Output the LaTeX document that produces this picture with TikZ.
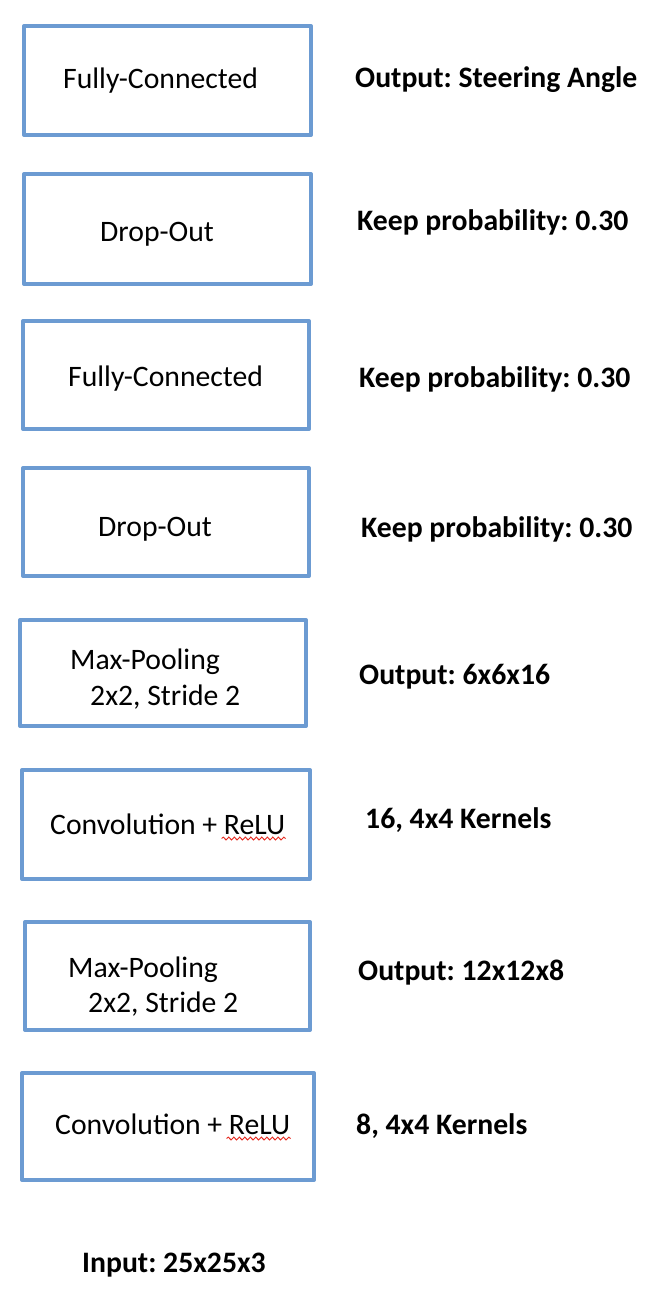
\documentclass[tikz,border=0pt]{standalone}
\usepackage{fontspec}
\setmainfont{Carlito}
\frenchspacing
\usetikzlibrary{calc,decorations.pathmorphing}
\definecolor{boxblue}{RGB}{108,155,210}
\definecolor{squig}{RGB}{230,40,30}
\tikzset{
  layerbox/.style={draw=boxblue, line width=4bp, rectangle, inner sep=0pt, line join=round},
  ltxt/.style={anchor=base west, inner sep=0pt, font=\fontsize{29.7bp}{34bp}\selectfont},
  rtxt/.style={anchor=base west, inner sep=0pt, font=\fontsize{29.7bp}{34bp}\selectfont\bfseries},
  spell/.style={draw=squig, line width=0.9bp, decorate, decoration={snake, amplitude=1.4bp, segment length=5.5bp}}
}
\begin{document}
\begin{tikzpicture}[x=1bp,y=-1bp]
\useasboundingbox (0,0) rectangle (648,1308);
\fill[white] (0,0) rectangle (648,1308);
% boxes
\node[layerbox, minimum width=287bp, minimum height=109bp] (b1) at (167.5,80.5) {};
\node[layerbox, minimum width=287bp, minimum height=110bp] (b2) at (167.5,229) {};
\node[layerbox, minimum width=286bp, minimum height=108bp] (b3) at (166,375) {};
\node[layerbox, minimum width=286bp, minimum height=108bp] (b4) at (166,522) {};
\node[layerbox, minimum width=286bp, minimum height=106bp] (b5) at (163,673) {};
\node[layerbox, minimum width=288bp, minimum height=109bp] (b6) at (166,824.5) {};
\node[layerbox, minimum width=285bp, minimum height=108bp] (b7) at (167.5,976) {};
\node[layerbox, minimum width=292bp, minimum height=107bp] (b8) at (168,1126.5) {};
% box texts
\node[ltxt] (t1) at (63,89) {Fully-Connected};
\node[ltxt] (t2) at (100,242) {Drop-Out};
\node[ltxt] (t3) at (68,386) {Fully-Connected};
\node[ltxt] (t4) at (98,536) {Drop-Out};
\node[ltxt] (t5a) at (70,669) {Max-Pooling};
\node[ltxt] (t5b) at (90,705) {2x2, Stride 2};
\node[ltxt] (t6) at (50,834) {Convolution + ReLU};
\node[ltxt] (t7a) at (68,977) {Max-Pooling};
\node[ltxt] (t7b) at (88,1012) {2x2, Stride 2};
\node[ltxt] (t8) at (55,1134) {Convolution + ReLU};
% spell-check squiggles
\draw[spell] ($(t6.base east)+(-64,4.5)$) -- ($(t6.base east)+(0,4.5)$);
\draw[spell] ($(t8.base east)+(-64,4.5)$) -- ($(t8.base east)+(0,4.5)$);
% right labels
\node[rtxt] (r1) at (355,88) {Output: Steering Angle};
\node[rtxt] (r2) at (357,231) {Keep probability: 0.30};
\node[rtxt] (r3) at (359,387) {Keep probability: 0.30};
\node[rtxt] (r4) at (361,537) {Keep probability: 0.30};
\node[rtxt] (r5) at (359,684) {Output: 6x6x16};
\node[rtxt] (r6) at (365,828) {16, 4x4 Kernels};
\node[rtxt] (r7) at (358,980) {Output: 12x12x8};
\node[rtxt] (r8) at (356,1134) {8, 4x4 Kernels};
% input
\node[rtxt] (in) at (82,1272) {Input: 25x25x3};
\end{tikzpicture}
\end{document}
